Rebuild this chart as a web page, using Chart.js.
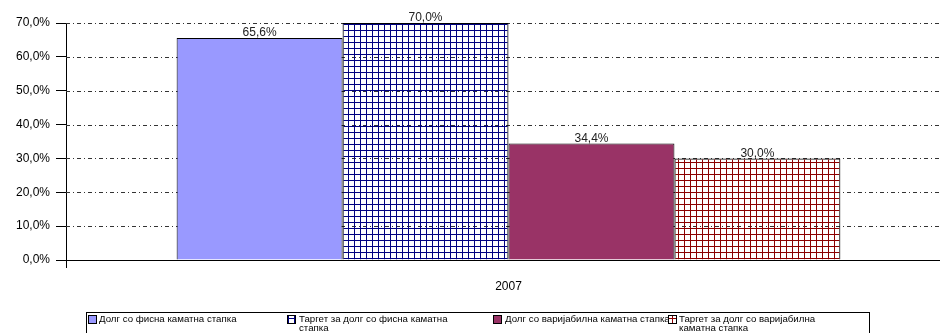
<!DOCTYPE html>
<html>
<head>
<meta charset="utf-8">
<script src="https://cdn.jsdelivr.net/npm/chart.js@4"></script>
<style>
  html, body { margin: 0; padding: 0; background: #fff; overflow: hidden; }
  #wrap { width: 943px; height: 333px; position: relative; overflow: hidden; }
</style>
</head>
<body>
<div id="wrap"><canvas id="chart" width="951" height="333"></canvas></div>
<script>
// categories, series, ticks
const years = ["2007"];
const seriesNames = [
  "Долг со фисна каматна стапка",
  "Таргет за долг со фисна каматна стапка",
  "Долг со варијабилна каматна стапка",
  "Таргет за долг со варијабилна каматна стапка"
];
const fixedDebt = [65.6];
const fixedTarget = [70.0];
const variableDebt = [34.4];
const variableTarget = [30.0];
const yTicks = [0, 10, 20, 30, 40, 50, 60, 70];

const FONT = "'Liberation Sans', Arial, sans-serif";
const GRID_END = 940;

// small square-grid hatch, transparent between the lines
function gridPattern(color, cell) {
  const c = document.createElement("canvas");
  c.width = cell; c.height = cell;
  const g = c.getContext("2d");
  g.fillStyle = color;
  g.fillRect(0, 0, cell, 1);
  g.fillRect(0, 0, 1, cell);
  return document.getElementById("chart").getContext("2d").createPattern(c, "repeat");
}

const bluePattern = gridPattern("#000080", 6);
const redPattern = gridPattern("#8b0000", 6);

const fmt = (v) => v.toFixed(1).replace(".", ",") + "%";

// dash-dot horizontal grid lines behind the bars, plus the zero line
const dashGrid = {
  id: "dashGrid",
  beforeDatasetsDraw(chart) {
    const { ctx, chartArea: { left }, scales: { y } } = chart;
    ctx.save();
    ctx.lineWidth = 1;
    yTicks.forEach((t) => {
      const py = Math.round(y.getPixelForValue(t)) + 0.5;
      ctx.strokeStyle = t === 0 ? "#000" : "#333";
      ctx.setLineDash(t === 0 ? [] : [4, 3, 1, 3]);
      ctx.beginPath();
      ctx.moveTo(left, py);
      ctx.lineTo(GRID_END, py);
      ctx.stroke();
    });
    ctx.restore();
  }
};

// value labels above each bar
const valueLabels = {
  id: "valueLabels",
  afterDatasetsDraw(chart) {
    const { ctx } = chart;
    ctx.save();
    ctx.font = "12px " + FONT;
    ctx.fillStyle = "#222";
    ctx.textAlign = "center";
    ctx.textBaseline = "bottom";
    chart.data.datasets.forEach((ds, i) => {
      chart.getDatasetMeta(i).data.forEach((bar, j) => {
        ctx.fillText(fmt(ds.data[j]), bar.x, bar.y + 1);
      });
    });
    ctx.restore();
  }
};

// boxed legend along the bottom edge
const boxLegend = {
  id: "boxLegend",
  afterDraw(chart) {
    const { ctx } = chart;
    const fills = ["#9999ff", bluePattern, "#993366", redPattern];
    const items = [
      { icon: 88, text: 99, lines: [seriesNames[0]] },
      { icon: 287, text: 299, lines: ["Таргет за долг со фисна каматна", "стапка"] },
      { icon: 493, text: 505, lines: [seriesNames[2]] },
      { icon: 668, text: 679, lines: ["Таргет за долг со варијабилна", "каматна стапка"] }
    ];
    ctx.save();
    ctx.strokeStyle = "#000";
    ctx.lineWidth = 1;
    ctx.strokeRect(86.5, 312.5, 783, 30);
    ctx.font = "9.7px " + FONT;
    ctx.textBaseline = "middle";
    items.forEach((it, i) => {
      ctx.fillStyle = "#fff";
      ctx.fillRect(it.icon, 315, 9, 9);
      ctx.fillStyle = fills[i];
      ctx.fillRect(it.icon, 315, 9, 9);
      ctx.strokeRect(it.icon + 0.5, 315.5, 8, 8);
      ctx.fillStyle = "#000";
      it.lines.forEach((l, k) => ctx.fillText(l, it.text, 319.5 + k * 9));
    });
    ctx.restore();
  }
};

const datasets = [fixedDebt, fixedTarget, variableDebt, variableTarget].map((d, i) => ({
  label: seriesNames[i],
  data: d,
  backgroundColor: ["#9999ff", bluePattern, "#993366", redPattern][i],
  borderColor: "#000",
  borderWidth: 1,
  borderSkipped: "bottom",
  categoryPercentage: 0.75,
  barPercentage: 1
}));

new Chart(document.getElementById("chart"), {
  type: "bar",
  data: { labels: years, datasets },
  plugins: [dashGrid, valueLabels, boxLegend],
  options: {
    responsive: false,
    animation: false,
    layout: { padding: { top: 23, right: 0, bottom: 0, left: 0 } },
    plugins: { legend: { display: false }, tooltip: { enabled: false } },
    scales: {
      x: {
        offset: true,
        grid: { drawOnChartArea: false, drawTicks: true, tickLength: 8, color: "#000", offset: true },
        border: { display: false },
        ticks: { color: "#000", font: { size: 12, family: FONT }, padding: 11 },
        afterFit(s) { s.height = 73; }
      },
      y: {
        min: 0, max: 70,
        afterBuildTicks(s) { s.ticks = yTicks.map((v) => ({ value: v })); },
        grid: { drawOnChartArea: false, drawTicks: true, tickLength: 10, color: "#000" },
        border: { color: "#000", width: 1 },
        ticks: { color: "#000", font: { size: 12, family: FONT }, padding: 6, callback: (v) => fmt(v) },
        afterFit(s) { s.width = 66; }
      }
    }
  }
});
</script>
</body>
</html>
